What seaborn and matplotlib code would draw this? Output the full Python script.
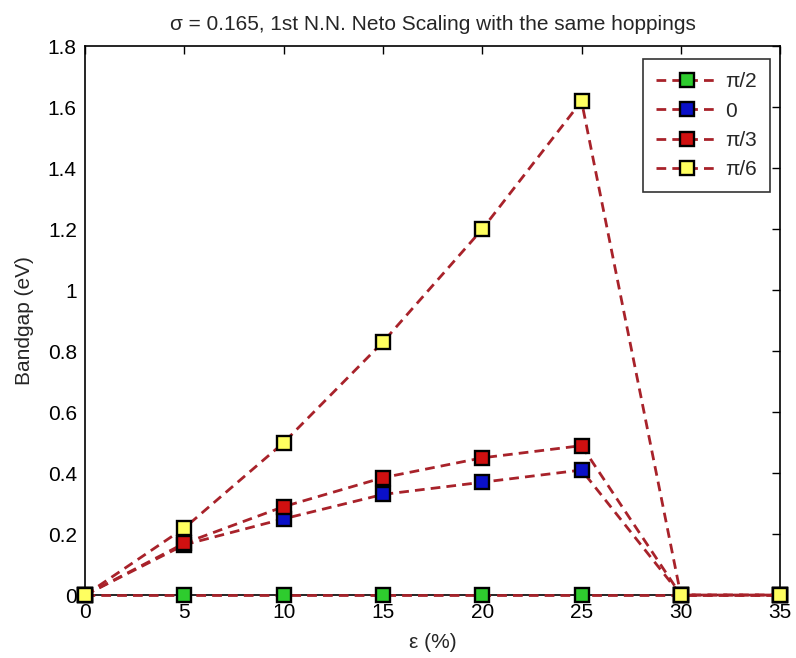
import matplotlib
matplotlib.use("Agg")
import matplotlib.pyplot as plt
import seaborn as sns
import pandas as pd

strain = [0, 5, 10, 15, 20, 25, 30, 35]
labels = ["\u03c0/2", "0", "\u03c0/3", "\u03c0/6"]
gap_pi2 = [0, 0, 0, 0, 0, 0, 0, 0]
gap_0 = [0, 0.165, 0.25, 0.33, 0.37, 0.41, 0, 0]
gap_pi3 = [0, 0.17, 0.29, 0.385, 0.45, 0.49, 0, 0]
gap_pi6 = [0, 0.22, 0.50, 0.83, 1.20, 1.62, 0, 0]
face_colors = ["#2ecc2e", "#0a10c8", "#d01010", "#ffff60"]

sns.set_style("white")
plt.rcParams["font.family"] = ["Liberation Sans", "DejaVu Sans"]

fig = plt.figure(figsize=(7.96, 6.58), dpi=100)
ax = fig.add_axes([0.107, 0.0957, 0.873, 0.834])

FS = 15
line_color = "#a8222a"
series = [gap_pi2, gap_0, gap_pi3, gap_pi6]
for lab, vals, fc in zip(labels, series, face_colors):
    df = pd.DataFrame({"x": strain, "y": vals})
    sns.lineplot(data=df, x="x", y="y", ax=ax, color=line_color, lw=2,
                 linestyle=(0, (3.5, 2.2)), marker="s", markersize=9.5,
                 markerfacecolor=fc, markeredgecolor="black",
                 markeredgewidth=1.7, label=lab, clip_on=False, zorder=3)

ax.set_xlim(0, 35)
ax.set_ylim(0, 1.8)
ax.set_xticks(strain)
ax.set_yticks([0, 0.2, 0.4, 0.6, 0.8, 1, 1.2, 1.4, 1.6, 1.8])
ax.set_yticklabels(["0", "0.2", "0.4", "0.6", "0.8", "1", "1.2", "1.4", "1.6", "1.8"])
ax.tick_params(direction="in", length=6, width=1, top=True, right=True,
               labelsize=FS, colors="black")
ax.tick_params(axis="y", pad=6)
ax.tick_params(axis="x", pad=6)
for sp in ax.spines.values():
    sp.set_color("black")
    sp.set_linewidth(1.2)
ax.set_xlabel("\u03b5 (%)", fontsize=FS, labelpad=8)
ax.set_ylabel("Bandgap (eV)", fontsize=FS, labelpad=10)
ax.set_title("\u03c3 = 0.165, 1st N.N. Neto Scaling with the same hoppings",
             fontsize=FS, pad=12)

leg = ax.legend(loc="upper right", bbox_to_anchor=(0.9856, 0.9763),
                borderaxespad=0, fontsize=FS,
                frameon=True, fancybox=False, edgecolor="black",
                handlelength=3.0, labelspacing=0.5, borderpad=0.62,
                handletextpad=0.35)
leg.get_frame().set_linewidth(1.2)

fig.savefig("out.png", dpi=100)
